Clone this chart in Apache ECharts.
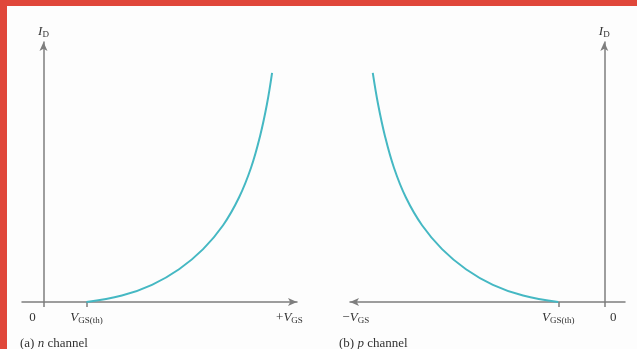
<!DOCTYPE html>
<html>
<head>
<meta charset="utf-8">
<script src="https://cdn.jsdelivr.net/npm/echarts@6/dist/echarts.min.js"></script>
<style>
  html, body { margin: 0; padding: 0; background: #fdfdfd; }
  #wrap { position: relative; width: 637px; height: 349px; overflow: hidden; }
  #chart { position: absolute; left: 0; top: 0; width: 637px; height: 349px; }
  .edge { position: absolute; background: #e0473a; }
</style>
</head>
<body>
<div id="wrap">
  <div id="chart"></div>
  <div class="edge" style="left:0;top:0;width:637px;height:6px;"></div>
  <div class="edge" style="left:0;top:0;width:7px;height:349px;"></div>
</div>
<script>
// n-channel transfer curve: V_GS (V) vs I_D (mA)
const nVgs = [2.0, 3.65, 5.05, 6.31, 7.43, 8.36, 9.10, 9.66, 10.08, 10.40, 10.64];
const nId  = [0, 0.28, 0.75, 1.43, 2.31, 3.35, 4.56, 5.86, 7.24, 8.63, 10.0];
// p-channel transfer curve: V_GS (V) vs I_D (mA)
const pVgs = [-2.0, -3.53, -4.84, -6.01, -7.05, -7.92, -8.62, -9.14, -9.53, -9.83, -10.06];
const pId  = [0, 0.28, 0.75, 1.43, 2.31, 3.35, 4.56, 5.86, 7.24, 8.63, 10.0];

// marked positions on each V_GS axis
const nTicks = [0, 2];
const pTicks = [0, -2];
const nAxisNamePos = 11.45;
const pAxisNamePos = -10.8;

const serif = '"Liberation Serif", "DejaVu Serif", serif';
const ink = '#333';
const curveColor = '#45b8c3';
const axisColor = '#7e7e7e';

const rich = {
  r: { fontFamily: serif, fontSize: 13, fontWeight: 'normal', color: ink, lineHeight: 15 },
  v: { fontFamily: serif, fontSize: 13, fontWeight: 'normal', fontStyle: 'italic', color: ink, lineHeight: 15 },
  s: { fontFamily: serif, fontSize: 9, fontWeight: 'normal', color: ink, lineHeight: 10, verticalAlign: 'bottom', padding: [4, 0, 0, 0] },
  zl: { fontFamily: serif, fontSize: 13, color: ink, lineHeight: 15, padding: [0, 22, 0, 0] },
  zr: { fontFamily: serif, fontSize: 13, color: ink, lineHeight: 15, padding: [0, 0, 0, 18] }
};

const near = (a, b) => Math.abs(a - b) < 1e-6;

function xAxisOf(gridIndex, min, max, ticks, namePos, arrowEnd, zeroStyle, sign) {
  return {
    type: 'value', gridIndex, min, max,
    splitLine: { show: false },
    axisLine: {
      onZero: true,
      lineStyle: { color: axisColor, width: 1.5 },
      symbol: arrowEnd ? ['none', 'arrow'] : ['arrow', 'none'],
      symbolSize: [6, 9]
    },
    axisTick: { show: true, customValues: ticks, length: 5, lineStyle: { color: axisColor, width: 1.5 } },
    axisLabel: {
      show: true,
      customValues: ticks.concat([namePos]),
      margin: 8,
      rich,
      formatter: function (val) {
        if (near(val, 0)) return '{' + zeroStyle + '|0}';
        if (near(val, namePos)) return '{r|' + sign + '}{v|V}{s|GS}';
        return '{v|V}{s|GS(th)}';
      }
    }
  };
}

function yAxisOf(gridIndex) {
  return {
    type: 'value', gridIndex, min: 0, max: 11.35,
    splitLine: { show: false },
    axisTick: { show: false },
    axisLabel: { show: false },
    axisLine: {
      onZero: true,
      lineStyle: { color: axisColor, width: 1.5 },
      symbol: ['none', 'arrow'],
      symbolSize: [6, 9]
    },
    name: '{v|I}{s|D}',
    nameLocation: 'end',
    nameGap: 3,
    nameTextStyle: { rich }
  };
}

function curve(xi, xs, ys) {
  return {
    type: 'line', xAxisIndex: xi, yAxisIndex: xi,
    smooth: 0.4, showSymbol: false,
    lineStyle: { color: curveColor, width: 2 },
    data: xs.map((v, i) => [v, ys[i]])
  };
}

const chart = echarts.init(document.getElementById('chart'), null, { renderer: 'canvas' });

chart.setOption({
  backgroundColor: '#fdfdfd',
  animation: false,
  title: [
    { text: '{r|(a) }{v|n}{r| channel}', left: 20, top: 336, padding: 0, textStyle: { fontWeight: 'normal', rich } },
    { text: '{r|(b) }{v|p}{r| channel}', left: 339, top: 336, padding: 0, textStyle: { fontWeight: 'normal', rich } }
  ],
  grid: [
    { left: 22, right: 340, top: 42, bottom: 47 },
    { left: 350, right: 12, top: 42, bottom: 47 }
  ],
  xAxis: [
    xAxisOf(0, -1.0, 11.8, nTicks, nAxisNamePos, true, 'zl', '+'),
    xAxisOf(1, -11.05, 0.9, pTicks, pAxisNamePos, false, 'zr', '\u2212')
  ],
  yAxis: [yAxisOf(0), yAxisOf(1)],
  series: [curve(0, nVgs, nId), curve(1, pVgs, pId)]
});
</script>
</body>
</html>
